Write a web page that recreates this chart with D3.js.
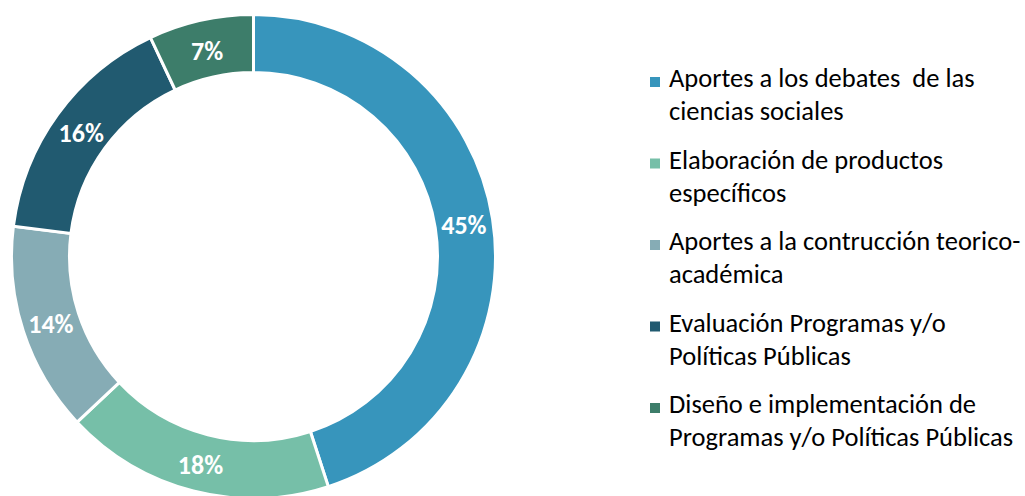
<!DOCTYPE html>
<html><head><meta charset="utf-8">
<script src="https://cdn.jsdelivr.net/npm/d3@7"></script>
<style>
html,body{margin:0;padding:0;background:#fff;}
svg{display:block;}
text{font-family:Carlito, Calibri, Lato, "Open Sans", sans-serif;}
</style></head>
<body>
<svg id="c" width="1025" height="496"></svg>
<script>
const categories = [
  "Aportes a los debates  de las\nciencias sociales",
  "Elaboración de productos\nespecíficos",
  "Aportes a la contrucción teorico-\nacadémica",
  "Evaluación Programas y/o\nPolíticas Públicas",
  "Diseño e implementación de\nProgramas y/o Políticas Públicas"
];
const values = [45, 18, 14, 16, 7];
const labels = ["45%", "18%", "14%", "16%", "7%"];
const colors = ["#3795bc", "#76bfa8", "#86acb5", "#215a70", "#3d7d6a"];

const svg = d3.select("#c");
const cx = 253.5, cy = 256.5, R = 242, r = 184;

const pie = d3.pie().sort(null).value(d => d)(values);
const arc = d3.arc().innerRadius(r).outerRadius(R);
const labelArc = d3.arc().innerRadius((R + r) / 2).outerRadius((R + r) / 2);

const g = svg.append("g").attr("transform", `translate(${cx},${cy})`);
g.selectAll("path").data(pie).join("path")
  .attr("d", arc)
  .attr("fill", (d, i) => colors[i])
  .attr("stroke", "#fff")
  .attr("stroke-width", 3);

g.selectAll("text.lbl").data(pie).join("text")
  .attr("class", "lbl")
  .attr("transform", d => { const c = labelArc.centroid(d); return `translate(${c[0]},${c[1] + 2})`; })
  .attr("text-anchor", "middle")
  .attr("dominant-baseline", "central")
  .attr("fill", "#fff")
  .attr("font-weight", "bold")
  .attr("font-size", 26)
  .text((d, i) => labels[i]);

const lg = svg.append("g");
const item = lg.selectAll("g").data(categories).join("g")
  .attr("transform", (d, i) => `translate(650,${87 + i * 81.5})`);
item.append("rect")
  .attr("x", 0).attr("y", -10).attr("width", 10).attr("height", 10)
  .attr("fill", (d, i) => colors[i]);
item.append("text")
  .attr("x", 19)
  .attr("font-size", 26.5)
  .attr("fill", "#000")
  .style("white-space", "pre")
  .selectAll("tspan").data(d => d.split("\n")).join("tspan")
  .attr("x", 19)
  .attr("dy", (d, j) => j === 0 ? 0 : 33)
  .text(d => d);
</script>
</body></html>
